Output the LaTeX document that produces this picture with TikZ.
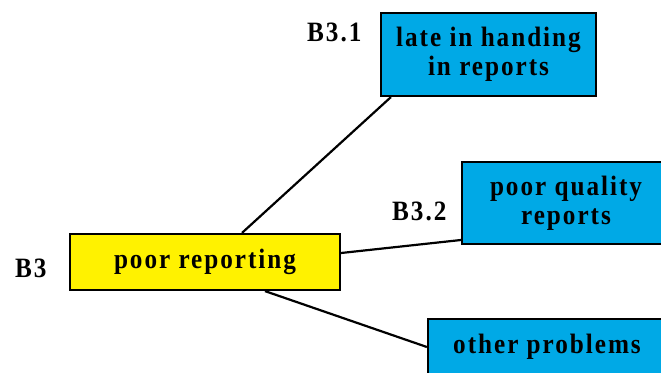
\documentclass[tikz,border=0pt]{standalone}
\usepackage{fontspec}
\setmainfont{Liberation Serif}[LetterSpace=7, FakeStretch=0.9]
\definecolor{boxblue}{RGB}{0,169,230}
\definecolor{boxyellow}{RGB}{255,242,0}
\begin{document}
\begin{tikzpicture}[x=1pt,y=-1pt,
  txt/.style={font=\fontsize{28}{29}\selectfont\bfseries, align=center, inner sep=0pt},
  cause/.style={txt, draw=black, line width=2.2pt, fill=boxblue},
  root/.style={txt, draw=black, line width=2.2pt, fill=boxyellow},
  tag/.style={txt, anchor=base west},
  link/.style={line width=2.2pt}]
  \useasboundingbox (0,0) rectangle (661,372);

  % main problem and its sub-causes
  \node[root, minimum width=270pt, minimum height=56pt] (main) at (205,262) {poor reporting};
  \node[cause, minimum width=215pt, minimum height=83pt] (late) at (488.5,54.5) {late in handing\\in reports};
  \node[cause, minimum width=208pt, minimum height=82pt] (quality) at (566,203) {poor quality\\reports};
  \node[cause, minimum width=238pt, minimum height=56pt] (other) at (547,347) {other problems};

  % codes
  \node[tag] (tmain) at (15,277) {B3};
  \node[tag] (tlate) at (307,41.5) {B3.1};
  \node[tag] (tquality) at (392,220) {B3.2};

  % connectors
  \draw[link] ([xshift=37pt]main.north) -- ([xshift=11pt]late.south west);
  \draw[link] ([yshift=9pt]main.east) -- ([yshift=-37pt]quality.west);
  \draw[link] ([xshift=60pt]main.south) -- (other.west);
\end{tikzpicture}
\end{document}
